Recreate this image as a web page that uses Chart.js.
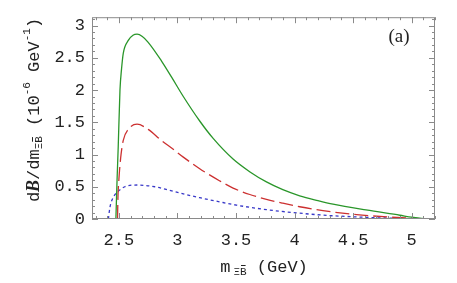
<!DOCTYPE html>
<html>
<head>
<meta charset="utf-8">
<script src="https://cdn.jsdelivr.net/npm/chart.js@4/dist/chart.umd.min.js"></script>
<style>
  html, body { margin: 0; padding: 0; background: #fff; }
</style>
</head>
<body>
<canvas id="plot" width="457" height="283"></canvas>
<script>
// curves (m in GeV, dB/dm in 1e-6 GeV^-1)
const greenX = [2.474, 2.484, 2.494, 2.509, 2.522, 2.537, 2.58, 2.62, 2.655, 2.70, 2.75, 2.864, 2.95, 3.05, 3.19, 3.305, 3.475, 3.62, 3.76, 3.90, 4.044, 4.2, 4.329, 4.61, 4.90, 5.0, 5.125];
const greenY = [0, 0.6, 1.12, 2.0, 2.32, 2.57, 2.77, 2.85, 2.866, 2.83, 2.74, 2.45, 2.20, 1.90, 1.52, 1.25, 0.93, 0.73, 0.575, 0.455, 0.36, 0.285, 0.23, 0.14, 0.058, 0.028, 0];

const redX = [2.488, 2.492, 2.50, 2.515, 2.537, 2.58, 2.655, 2.75, 2.864, 2.95, 3.05, 3.19, 3.362, 3.475, 3.618, 3.76, 3.90, 4.044, 4.243, 4.53, 4.81, 5.12];
const redY = [0, 0.35, 0.62, 0.95, 1.22, 1.39, 1.47, 1.39, 1.216, 1.10, 0.96, 0.78, 0.59, 0.48, 0.38, 0.305, 0.245, 0.19, 0.13, 0.068, 0.03, 0];

const blueX = [2.41, 2.423, 2.45, 2.494, 2.55, 2.655, 2.807, 2.935, 3.05, 3.19, 3.35, 3.504, 3.76, 4.044, 4.243, 4.53, 4.81, 5.1];
const blueY = [0, 0.18, 0.33, 0.43, 0.50, 0.527, 0.50, 0.443, 0.39, 0.33, 0.27, 0.215, 0.145, 0.09, 0.06, 0.032, 0.013, 0];

const xTicks = [2.5, 3, 3.5, 4, 4.5, 5];
const yTicks = [0, 0.5, 1, 1.5, 2, 2.5, 3];

const MONO = '"Liberation Mono", "DejaVu Sans Mono", monospace';
const SERIF = '"Liberation Serif", "DejaVu Serif", serif';

function toPoints(xs, ys) {
    return xs.map((x, i) => ({ x: x, y: ys[i] }));
}

// draws a row of text pieces (sub/superscripts, overlines) centred on (cx, cy)
function drawRich(ctx, segs, cx, cy, angle) {
    ctx.save();
    ctx.translate(cx, cy);
    ctx.rotate(angle);
    ctx.textBaseline = 'middle';
    ctx.textAlign = 'left';
    let total = 0;
    segs.forEach(s => { ctx.font = s.f; s.w = ctx.measureText(s.t).width; total += s.w + (s.gap || 0); });
    let x = -total / 2;
    segs.forEach(s => {
        ctx.font = s.f;
        ctx.fillText(s.t, x, s.dy || 0);
        if (s.over) {
            ctx.fillRect(x + 1, (s.dy || 0) - 7, s.w - 2, 1);
        }
        x += s.w + (s.gap || 0);
    });
    ctx.restore();
}

const framePlugin = {
    id: 'frame',
    afterDraw(chart) {
        const ctx = chart.ctx;
        const a = chart.chartArea;
        const sx = chart.scales.x, sy = chart.scales.y;
        ctx.save();
        ctx.strokeStyle = '#8a8a8a';
        ctx.lineWidth = 1;
        ctx.strokeRect(a.left + 0.5, a.top + 0.5, a.right - a.left - 1, a.bottom - a.top - 1);

        ctx.beginPath();
        for (let k = 23; k <= 52; k++) {
            const px = Math.round(sx.getPixelForValue(k / 10)) + 0.5;
            const len = k % 5 === 0 ? 6 : 3;
            ctx.moveTo(px, a.bottom); ctx.lineTo(px, a.bottom - len);
            ctx.moveTo(px, a.top); ctx.lineTo(px, a.top + len);
        }
        for (let k = 0; k <= 31; k++) {
            const py = Math.round(sy.getPixelForValue(k / 10)) + 0.5;
            const len = k % 5 === 0 ? 6 : 3;
            ctx.moveTo(a.left, py); ctx.lineTo(a.left + len, py);
            ctx.moveTo(a.right, py); ctx.lineTo(a.right - len, py);
        }
        ctx.stroke();

        ctx.fillStyle = '#222';
        const big = '17px ' + MONO, small = '11px ' + MONO;
        // y axis title
        drawRich(ctx, [
            { t: 'd', f: big },
            { t: 'B', f: 'bold italic 18px ' + SERIF },
            { t: '/dm', f: big },
            { t: 'Ξ', f: small, dy: 5 },
            { t: 'B', f: small, dy: 5, over: true },
            { t: ' (10', f: big },
            { t: '-6', f: small, dy: -7 },
            { t: ' GeV', f: big },
            { t: '-1', f: small, dy: -7 },
            { t: ')', f: big }
        ], 34, 110, -Math.PI / 2);
        // x axis title
        drawRich(ctx, [
            { t: 'm', f: big, gap: 3 },
            { t: 'Ξ', f: small, dy: 5 },
            { t: 'B', f: small, dy: 5, over: true },
            { t: ' (GeV)', f: big }
        ], 264, 267, 0);
        // panel label
        ctx.font = '19px ' + SERIF;
        ctx.textAlign = 'center';
        ctx.textBaseline = 'middle';
        ctx.fillText('(a)', 399, 37);
        ctx.restore();
    }
};

const lineStyle = {
    pointRadius: 0,
    borderWidth: 1.3,
    fill: false,
    cubicInterpolationMode: 'monotone'
};

new Chart(document.getElementById('plot').getContext('2d'), {
    type: 'line',
    data: {
        datasets: [
            Object.assign({ label: 'green', data: toPoints(greenX, greenY), borderColor: '#2a962a' }, lineStyle),
            Object.assign({ label: 'red', data: toPoints(redX, redY), borderColor: '#cc3030', borderDash: [14, 5] }, lineStyle),
            Object.assign({ label: 'blue', data: toPoints(blueX, blueY), borderColor: '#3838c8', borderDash: [3, 3] }, lineStyle)
        ]
    },
    options: {
        responsive: false,
        animation: false,
        devicePixelRatio: 1,
        layout: { padding: { top: 7, right: 22, left: 0, bottom: 0 } },
        scales: {
            x: {
                type: 'linear',
                min: 2.27,
                max: 5.2,
                grid: { display: false, drawTicks: false },
                border: { display: false },
                afterBuildTicks: s => { s.ticks = xTicks.map(v => ({ value: v })); },
                afterFit: s => { s.height = 64; },
                ticks: {
                    padding: 11,
                    color: '#222',
                    font: { family: MONO, size: 17 },
                    callback: v => String(v)
                }
            },
            y: {
                min: 0,
                max: 3.13,
                grid: { display: false, drawTicks: false },
                border: { display: false },
                afterBuildTicks: s => { s.ticks = yTicks.map(v => ({ value: v })); },
                afterFit: s => { s.width = 92; },
                ticks: {
                    padding: 7,
                    color: '#222',
                    font: { family: MONO, size: 17 },
                    callback: v => String(v)
                }
            }
        },
        plugins: {
            legend: { display: false },
            tooltip: { enabled: false }
        }
    },
    plugins: [framePlugin]
});
</script>
</body>
</html>
